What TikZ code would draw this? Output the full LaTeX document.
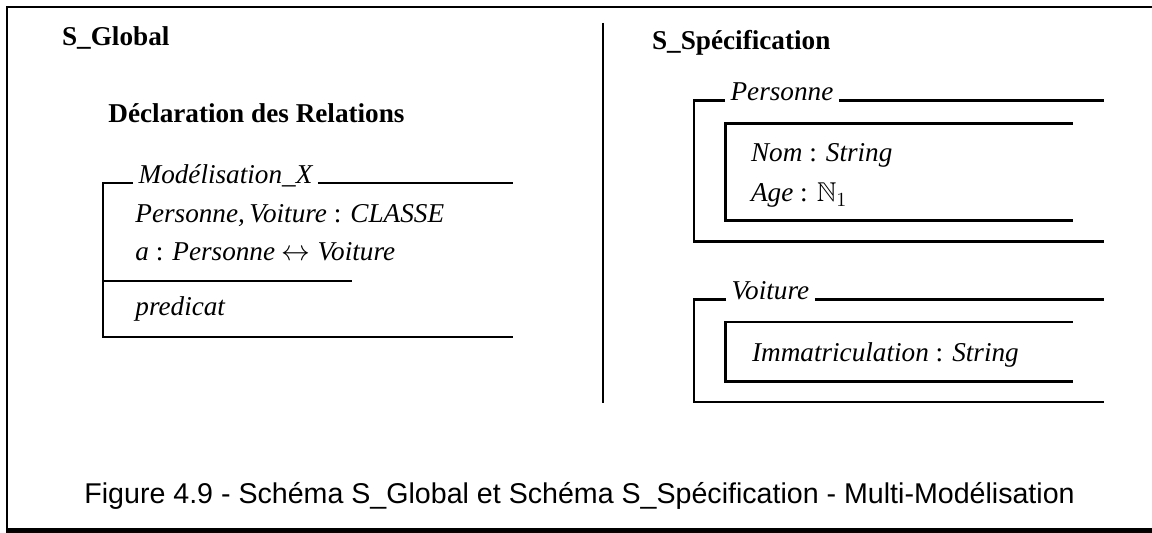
\documentclass[tikz,border=0pt]{standalone}
\usepackage{amssymb}
\usepackage{fontspec}
\setmainfont{Liberation Serif}
\setsansfont{Liberation Sans}
\begin{document}
\begin{tikzpicture}[x = 0.5pt, y = -0.5pt,
                   titre/.style = {font = \fontsize{13.6}{16}\selectfont\bfseries, anchor = base west, inner sep = 0pt},
                   ligne/.style = {font = \fontsize{13.6}{16}\selectfont\itshape, anchor = base west, inner sep = 0pt},
                   entete/.style = {font = \fontsize{13.6}{16}\selectfont\itshape, anchor = base west, inner xsep = 2.6pt, inner ysep = 0pt},
                   fin/.style = {line width = 0.85pt},
                   gras/.style = {line width = 1.35pt}]
                   \useasboundingbox (0,0) rectangle (1152,533);

                   \draw[line width = 1pt] (7,533) -- (7,6.7) -- (1152,6.7);
                   \draw[line width = 2.5pt] (6,531) -- (1152,531);
                   \draw[fin] (602.7,23) -- (602.7,403);

                   \node[titre] (global) at (61.7,46) {S\_Global};
                   \node[titre] (decl) at (108,123) {Déclaration des Relations};

                   \node[entete] (modx) at (133,183.3) {Modélisation\_X};
                   \draw[fin] (modx.base west) -- (102.7,183.3) -- (102.7,336.7) -- (513,336.7);
                   \draw[fin] (modx.base east) -- (513,183.3);
                   \draw[fin] (102.7,280.7) -- (352,280.7);
                   \node[ligne] (classes) at (135,222.7) {Personne,\,Voiture {\upshape :} CLASSE};
                   \node[ligne] (rel) at (135,260.7) {a {\upshape :} Personne $\leftrightarrow$ Voiture};
                   \node[ligne] (pred) at (135,315.7) {predicat};

                   \node[titre] (spec) at (651.7,50) {S\_Spécification};

                   \node[entete] (personne) at (725,100.7) {Personne};
                   \draw[gras] (personne.base west) -- (694,100.7) -- (694,241.7) -- (1104,241.7);
                   \draw[gras] (personne.base east) -- (1104,100.7);
                   \draw[gras] (1072.7,123.3) -- (725.7,123.3) -- (725.7,220.7) -- (1072.7,220.7);
                   \node[ligne] (nom) at (750.7,161.7) {Nom {\upshape :} String};
                   \node[ligne] (age) at (750.7,201.7) {Age {\upshape :} $\mathbb{N}_1$};

                   \node[entete] (voiture) at (726,299.3) {Voiture};
                   \draw[gras] (voiture.base west) -- (694,299.3) -- (694,402) -- (1104,402);
                   \draw[gras] (voiture.base east) -- (1104,299.3);
                   \draw[gras] (1072.7,322) -- (725.7,322) -- (725.7,381.5) -- (1072.7,381.5);
                   \node[ligne] (immat) at (751.7,361.7) {Immatriculation {\upshape :} String};

                   \node[font = \sffamily\fontsize{14.3}{17}\selectfont, anchor = base west, inner sep = 0pt] (legende) at (84,503.5) {Figure 4.9 - Schéma S\_Global et Schéma S\_Spécification - Multi-Modélisation};
        \end{tikzpicture}
\end{document}
